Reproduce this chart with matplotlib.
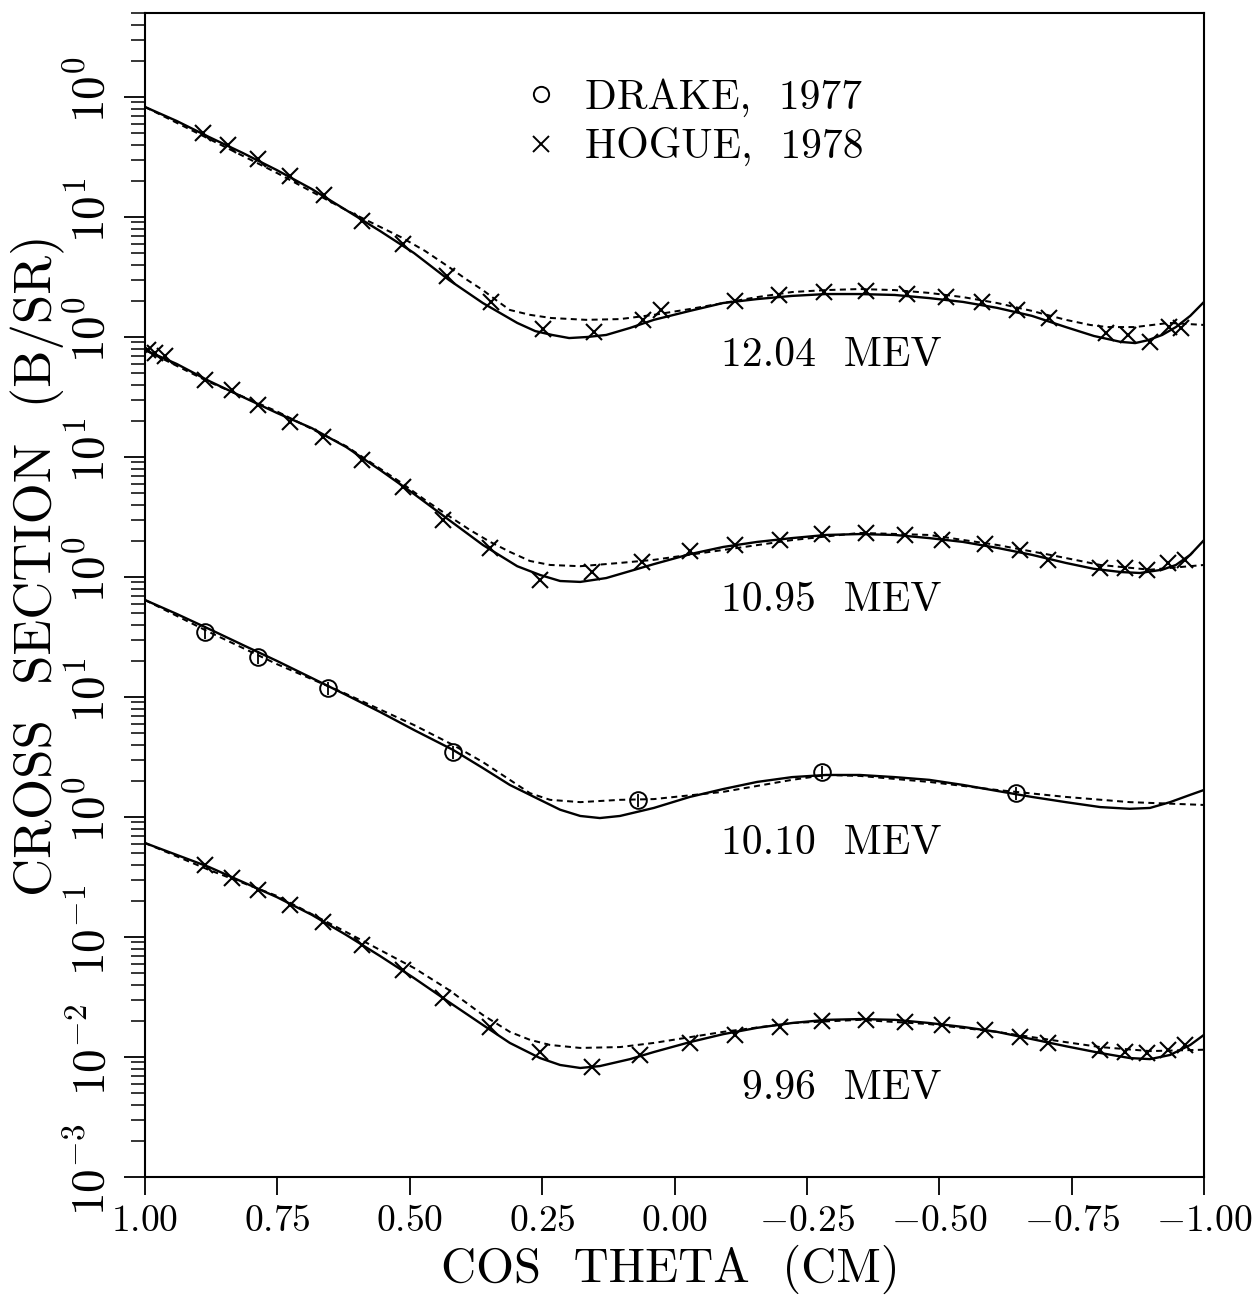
import matplotlib
matplotlib.use("Agg")
import matplotlib.pyplot as plt
import matplotlib.transforms as mtransforms
from matplotlib.ticker import LogLocator, NullFormatter, FixedLocator
from matplotlib.lines import Line2D

plt.rcParams['mathtext.fontset'] = 'cm'
plt.rcParams['axes.unicode_minus'] = True

# ---------------- data (cross sections, b/sr) ----------------
ENERGIES = ["12.04 MEV", "10.95 MEV", "10.10 MEV", "9.96 MEV"]
OFFSETS = [1e6, 1e4, 1e2, 1.0]

# 12.04 MeV
SOLID_1204_COS = [1.0, 0.940, 0.879, 0.815, 0.751, 0.685, 0.620, 0.556, 0.492, 0.426, 0.362, 0.297,
                  0.263, 0.231, 0.199, 0.165, 0.129, 0.084, 0.039, -0.029, -0.092, -0.156, -0.222,
                  -0.286, -0.350, -0.416, -0.481, -0.545, -0.609, -0.675, -0.739, -0.792, -0.843,
                  -0.870, -0.894, -0.921, -0.947, -0.974, -1.0]
SOLID_1204 = [0.826, 0.631, 0.464, 0.341, 0.246, 0.171, 0.114, 0.0764, 0.0501, 0.0299, 0.0192, 0.0131,
              0.0112, 0.0104, 0.0098, 0.0100, 0.0104, 0.0119, 0.0139, 0.0165, 0.0192, 0.0207, 0.0220,
              0.0228, 0.0228, 0.0224, 0.0211, 0.0196, 0.0175, 0.0150, 0.0121, 0.0102, 0.0091,
              0.0089, 0.0094, 0.0104, 0.0121, 0.0150, 0.0196]
DASH_1204_COS = [1.0, 0.879, 0.751, 0.620, 0.517, 0.471, 0.426, 0.394, 0.362, 0.335, 0.311, 0.273,
                 0.233, 0.167, 0.103, 0.039, -0.029, -0.092, -0.156, -0.222, -0.286, -0.350, -0.416,
                 -0.481, -0.545, -0.609, -0.675, -0.739, -0.785, -0.817, -0.870, -0.934, -1.0]
DASH_1204 = [0.826, 0.447, 0.233, 0.114, 0.0681, 0.0521, 0.0383, 0.0304, 0.0246, 0.0200, 0.0168, 0.0153,
             0.0144, 0.0139, 0.0141, 0.0153, 0.0171, 0.0192, 0.0215, 0.0237, 0.0246, 0.0251, 0.0246,
             0.0233, 0.0215, 0.0192, 0.0165, 0.0139, 0.0126, 0.0121, 0.0121, 0.0131, 0.0126]
HOGUE_1204_COS = [0.890, 0.843, 0.787, 0.726, 0.662, 0.590, 0.513, 0.430, 0.347, 0.248, 0.152, 0.059,
                  0.025, -0.114, -0.197, -0.282, -0.362, -0.439, -0.513, -0.581, -0.647, -0.707,
                  -0.815, -0.856, -0.898, -0.934, -0.957]
HOGUE_1204 = [0.501, 0.398, 0.304, 0.220, 0.153, 0.0926, 0.0596, 0.0322, 0.0196, 0.0117, 0.0110, 0.0139,
              0.0168, 0.0200, 0.0224, 0.0237, 0.0242, 0.0228, 0.0215, 0.0196, 0.0168, 0.0144,
              0.0108, 0.0104, 0.0091, 0.0121, 0.0119]

# 10.95 MeV
SOLID_1095_COS = [1.0, 0.940, 0.879, 0.815, 0.751, 0.685, 0.620, 0.556, 0.492, 0.426, 0.362, 0.297,
                  0.254, 0.216, 0.178, 0.129, 0.084, 0.039, -0.029, -0.092, -0.156, -0.222, -0.286,
                  -0.350, -0.416, -0.481, -0.545, -0.609, -0.675, -0.739, -0.792, -0.843, -0.879,
                  -0.921, -0.947, -0.974, -1.0]
SOLID_1095 = [0.779, 0.596, 0.430, 0.316, 0.233, 0.174, 0.121, 0.0779, 0.0492, 0.0299, 0.0185, 0.0123,
              0.0104, 0.00926, 0.0091, 0.0098, 0.0112, 0.0128, 0.0155, 0.0178, 0.0196, 0.0211, 0.0224,
              0.0228, 0.0224, 0.0211, 0.0196, 0.0175, 0.0153, 0.0131, 0.0117, 0.0110, 0.0108,
              0.0115, 0.0126, 0.0153, 0.0203]
DASH_1095_COS = [1.0, 0.879, 0.751, 0.620, 0.518, 0.471, 0.426, 0.386, 0.348, 0.311, 0.273, 0.235,
                 0.178, 0.103, 0.039, -0.092, -0.222, -0.350, -0.481, -0.609, -0.709, -0.804,
                 -0.898, -1.0]
DASH_1095 = [0.779, 0.422, 0.240, 0.123, 0.0619, 0.0438, 0.0322, 0.0246, 0.0196, 0.0162, 0.0136, 0.0126,
             0.0123, 0.0131, 0.0139, 0.0168, 0.0203, 0.0233, 0.0224, 0.0185, 0.0153, 0.0126,
             0.0115, 0.0126]
HOGUE_1095_COS = [0.994, 0.981, 0.962, 0.887, 0.836, 0.787, 0.726, 0.664, 0.590, 0.513, 0.437, 0.348,
                  0.254, 0.156, 0.061, -0.029, -0.114, -0.199, -0.279, -0.362, -0.435, -0.505, -0.586,
                  -0.652, -0.705, -0.804, -0.851, -0.892, -0.932, -0.964]
HOGUE_1095 = [0.779, 0.736, 0.695, 0.438, 0.362, 0.271, 0.196, 0.147, 0.0944, 0.0562, 0.0298, 0.0175,
              0.00944, 0.0110, 0.0133, 0.0164, 0.0185, 0.0204, 0.0228, 0.0232, 0.0224, 0.0204, 0.0188,
              0.0168, 0.0139, 0.0119, 0.0119, 0.0115, 0.0131, 0.0139]

# 10.10 MeV
SOLID_1010_COS = [1.0, 0.940, 0.879, 0.815, 0.751, 0.685, 0.620, 0.556, 0.492, 0.418, 0.362, 0.311,
                  0.254, 0.216, 0.178, 0.141, 0.103, 0.039, -0.029, -0.092, -0.156, -0.222, -0.286,
                  -0.350, -0.416, -0.481, -0.545, -0.609, -0.675, -0.739, -0.804, -0.860, -0.898,
                  -0.936, -0.974, -1.0]
SOLID_1010 = [0.643, 0.492, 0.369, 0.271, 0.200, 0.144, 0.104, 0.0750, 0.0531, 0.0362, 0.0256, 0.0185,
              0.0139, 0.0115, 0.0102, 0.0098, 0.0102, 0.0119, 0.0147, 0.0171, 0.0196, 0.0215, 0.0224,
              0.0224, 0.0215, 0.0204, 0.0185, 0.0165, 0.0147, 0.0133, 0.0121, 0.0117, 0.0119,
              0.0133, 0.0153, 0.0168]
DASH_1010_COS = [1.0, 0.879, 0.751, 0.620, 0.492, 0.418, 0.362, 0.311, 0.273, 0.235, 0.178, 0.103,
                 0.039, -0.092, -0.222, -0.286, -0.350, -0.481, -0.609, -0.739, -0.860, -1.0]
DASH_1010 = [0.643, 0.348, 0.188, 0.106, 0.0584, 0.0398, 0.0287, 0.0204, 0.0158, 0.0139, 0.0133, 0.0139,
             0.0141, 0.0162, 0.0204, 0.0224, 0.0220, 0.0196, 0.0168, 0.0147, 0.0133, 0.0126]
DRAKE_1010_COS = [0.887, 0.787, 0.654, 0.418, 0.069, -0.279, -0.645]
DRAKE_1010 = [0.348, 0.215, 0.119, 0.0348, 0.0139, 0.0237, 0.0158]

# 9.96 MeV
SOLID_996_COS = [1.0, 0.940, 0.879, 0.815, 0.751, 0.685, 0.620, 0.556, 0.492, 0.426, 0.362, 0.311,
                 0.254, 0.216, 0.178, 0.141, 0.084, 0.039, -0.029, -0.092, -0.156, -0.222, -0.286,
                 -0.350, -0.416, -0.481, -0.545, -0.609, -0.675, -0.739, -0.804, -0.860, -0.898,
                 -0.936, -0.974, -1.0]
SOLID_996 = [0.607, 0.483, 0.383, 0.287, 0.215, 0.153, 0.104, 0.0694, 0.0455, 0.0287, 0.0185, 0.0131,
             0.0098, 0.00858, 0.0081, 0.0084, 0.0096, 0.0110, 0.0133, 0.0155, 0.0175, 0.0192, 0.0204,
             0.0207, 0.0204, 0.0192, 0.0178, 0.0162, 0.0141, 0.0123, 0.0108, 0.0098, 0.0096,
             0.0104, 0.0126, 0.0153]
DASH_996_COS = [1.0, 0.879, 0.751, 0.620, 0.492, 0.426, 0.362, 0.311, 0.273, 0.235, 0.178, 0.103,
                0.039, -0.092, -0.222, -0.350, -0.481, -0.609, -0.739, -0.804, -0.898, -1.0]
DASH_996 = [0.607, 0.362, 0.220, 0.110, 0.0552, 0.0362, 0.0224, 0.0162, 0.0139, 0.0126, 0.0119, 0.0121,
            0.0131, 0.0162, 0.0192, 0.0204, 0.0188, 0.0162, 0.0133, 0.0121, 0.0112, 0.0115]
HOGUE_996_COS = [0.887, 0.836, 0.787, 0.726, 0.664, 0.590, 0.513, 0.437, 0.348, 0.254, 0.156, 0.065,
                 -0.029, -0.114, -0.199, -0.279, -0.362, -0.435, -0.505, -0.586, -0.652, -0.705,
                 -0.804, -0.851, -0.892, -0.932, -0.964]
HOGUE_996 = [0.398, 0.311, 0.246, 0.185, 0.133, 0.0858, 0.0531, 0.0310, 0.0178, 0.0110, 0.00826, 0.0104,
             0.0131, 0.0152, 0.0178, 0.0200, 0.0204, 0.0196, 0.0185, 0.0168, 0.0147, 0.0131,
             0.0115, 0.0110, 0.0108, 0.0115, 0.0126]

X_TICKS = [1.00, 0.75, 0.50, 0.25, 0.00, -0.25, -0.50, -0.75, -1.00]
X_TICK_LABELS = ["$1.00$", "$0.75$", "$0.50$", "$0.25$", "$0.00$",
                 "$-0.25$", "$-0.50$", "$-0.75$", "$-1.00$"]
Y_TICKS = [1e-3, 1e-2, 1e-1, 1e0, 1e1, 1e2, 1e3, 1e4, 1e5, 1e6]
Y_TICK_LABELS = ["$10^{-3}$", "$10^{-2}$", "$10^{-1}$", "$10^{0}$", "$10^{1}$",
                 "$10^{0}$", "$10^{1}$", "$10^{0}$", "$10^{1}$", "$10^{0}$"]

# ---------------- figure ----------------
fig = plt.figure(figsize=(12.54, 13.01), dpi=100)
ax = fig.add_axes([145 / 1254, 1 - 1177 / 1301, (1204 - 145) / 1254, (1177 - 13) / 1301])

ax.set_yscale('log')
ax.set_xlim(1.0, -1.0)
ax.set_ylim(1e-3, 10 ** 6.70)

FONT = 'cmr10'
lw = 1.7
dash_style = (0, (3.0, 2.2))

series = [
    (SOLID_1204_COS, SOLID_1204, DASH_1204_COS, DASH_1204, HOGUE_1204_COS, HOGUE_1204, None, None),
    (SOLID_1095_COS, SOLID_1095, DASH_1095_COS, DASH_1095, HOGUE_1095_COS, HOGUE_1095, None, None),
    (SOLID_1010_COS, SOLID_1010, DASH_1010_COS, DASH_1010, None, None, DRAKE_1010_COS, DRAKE_1010),
    (SOLID_996_COS, SOLID_996, DASH_996_COS, DASH_996, HOGUE_996_COS, HOGUE_996, None, None),
]

for (sc, sv, dc, dv, hc, hv, dkc, dkv), off in zip(series, OFFSETS):
    ax.plot(sc, [v * off for v in sv], color='black', lw=lw, solid_joinstyle='round')
    ax.plot(dc, [v * off for v in dv], color='black', lw=lw * 0.85, linestyle=dash_style)
    if hc is not None:
        ax.plot(hc, [v * off for v in hv], linestyle='none', marker='x', markersize=12,
                markeredgewidth=1.5, color='black')
    if dkc is not None:
        yv = [v * off for v in dkv]
        ax.errorbar(dkc, yv, yerr=[[v * 0.12 for v in yv], [v * 0.12 for v in yv]],
                    fmt='o', markersize=12, markerfacecolor='none', markeredgecolor='black',
                    markeredgewidth=1.4, ecolor='black', elinewidth=1.3, capsize=0)

# energy labels (right-aligned)
label_ypix = [355, 600, 843, 1088]
for name, ypix in zip(ENERGIES, label_ypix):
    ax.text((942 - 145) / 1059, (1177 - ypix) / 1164, name.replace(' ', '  '),
            transform=ax.transAxes, ha='right', va='center', fontsize=30, family=FONT)

# ticks
ax.xaxis.set_major_locator(FixedLocator(X_TICKS))
ax.set_xticklabels(X_TICK_LABELS, fontsize=27)
ax.yaxis.set_major_locator(FixedLocator(Y_TICKS))
ax.yaxis.set_minor_locator(LogLocator(base=10, subs=range(2, 10), numticks=40))
ax.yaxis.set_minor_formatter(NullFormatter())
ax.set_yticklabels(Y_TICK_LABELS, fontsize=34, rotation=90, va='center')

ax.tick_params(axis='x', which='major', direction='out', length=13, width=1.3, pad=6,
               top=False, bottom=True)
ax.tick_params(axis='y', which='major', direction='out', length=15, width=1.3, pad=7,
               left=True, right=False)
ax.tick_params(axis='y', which='minor', direction='out', length=10, width=1.1,
               left=True, right=False)
ax.tick_params(axis='x', which='minor', bottom=False, top=False)

off = mtransforms.ScaledTranslation(0, 7 / 100, fig.dpi_scale_trans)
for lab in ax.get_yticklabels():
    lab.set_transform(lab.get_transform() + off)

for sp in ax.spines.values():
    sp.set_linewidth(1.5)

ax.set_xlabel("COS  THETA  (CM)", fontsize=35, family=FONT)
ax.set_ylabel("CROSS  SECTION  (B/SR)", fontsize=38, family=FONT)
ax.xaxis.set_label_coords(0.496, -0.058)
ax.yaxis.set_label_coords(-0.076, 0.526)

handles = [
    Line2D([], [], linestyle='none', marker='o', markersize=11, markerfacecolor='none',
           markeredgecolor='black', markeredgewidth=1.4),
    Line2D([], [], linestyle='none', marker='x', markersize=11, markeredgewidth=1.4, color='black'),
]
leg = ax.legend(handles, ["DRAKE,  1977", "HOGUE,  1978"], loc='upper left',
                bbox_to_anchor=((520 - 145) / 1059, (1177 - 78) / 1164), frameon=False,
                prop={'family': FONT, 'size': 30}, handlelength=1.0, handletextpad=0.55,
                borderpad=0, borderaxespad=0, labelspacing=0.25)

fig.savefig("out.png", dpi=100)
